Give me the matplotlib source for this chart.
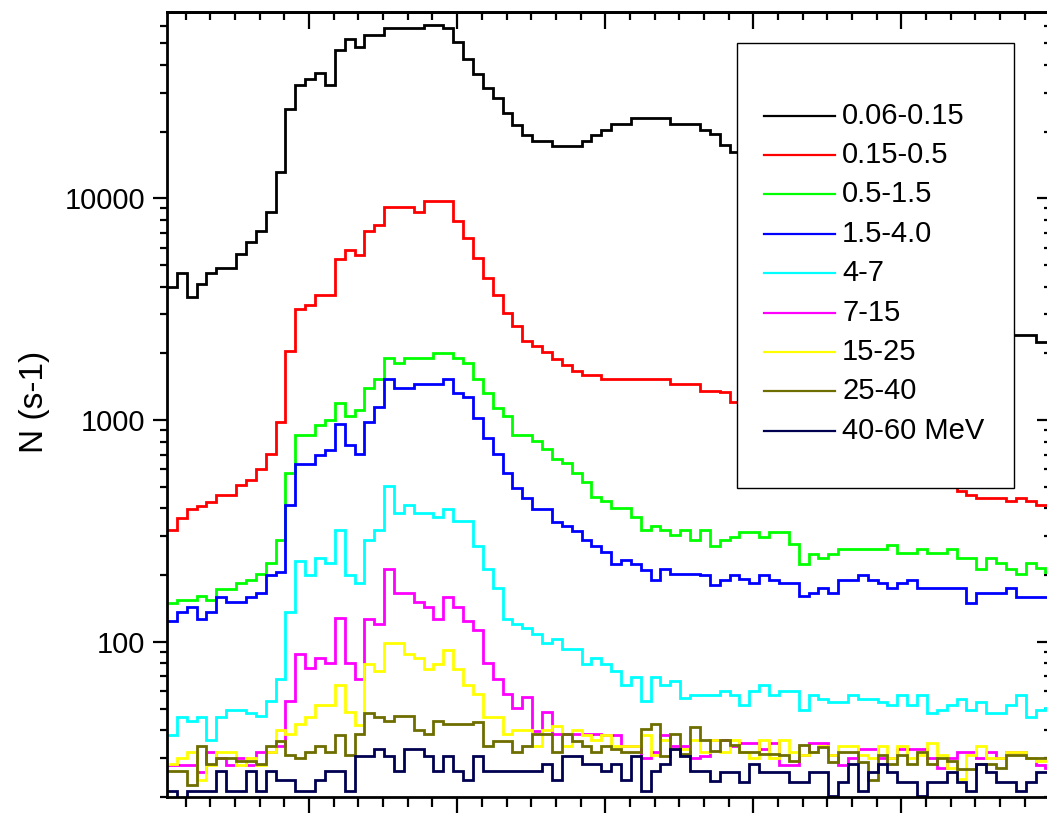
import numpy as np
import matplotlib
matplotlib.use('Agg')
import matplotlib.pyplot as plt
from matplotlib.lines import Line2D
from matplotlib.patches import Rectangle

plt.rcParams['font.family'] = ['Liberation Sans', 'DejaVu Sans']

labels = ['0.06-0.15', '0.15-0.5', '0.5-1.5', '1.5-4.0', '4-7', '7-15',
          '15-25', '25-40', '40-60 MeV']
colors = ['#000000', '#FF0000', '#00FF00', '#0000FF', '#00FFFF', '#FF00FF',
          '#FFFF00', '#6E6E00', '#000050']

black = [3970, 4590, 3575, 4090, 4590, 4870, 4870, 5590, 6375, 7120,
         8680, 13190, 25380, 32340, 34530, 36640, 32340, 46700, 52360, 48330,
         54710, 54710, 58620, 58620, 58620, 58620, 60490, 60490, 58620, 50700,
         42360, 36390, 31330, 28360, 24330, 21420, 19240, 18200, 18200, 17290,
         17290, 17290, 18200, 19240, 20320, 21580, 21580, 22970, 22970, 22970,
         22970, 21580, 21580, 21580, 20320, 19500, 17400, 16240, 15500, 14800,
         13900, 13000, 12000, 11000, 10000, 9100, 8300, 7500, 6800, 6200,
         5600, 5100, 4700, 4300, 4000, 3700, 3450, 3250, 3050, 2900,
         2780, 2680, 2600, 2540, 2480, 2420, 2420, 2420, 2250, 2250]
red = [319, 364, 399, 412, 428, 459, 459, 509, 540, 601,
       702, 983, 2046, 3168, 3304, 3664, 3664, 5348, 5847, 5548,
       7123, 7585, 9108, 9108, 9108, 8646, 9694, 9694, 9694, 7926,
       6600, 5358, 4357, 3664, 3027, 2670, 2280, 2164, 2033, 1884,
       1771, 1669, 1596, 1596, 1531, 1531, 1531, 1531, 1531, 1531,
       1531, 1449, 1449, 1449, 1356, 1356, 1334, 1211, 1150, 1100,
       1050, 1000, 960, 920, 880, 850, 820, 790, 760, 730,
       700, 680, 660, 640, 620, 600, 580, 560, 540, 520,
       480, 462, 445, 445, 445, 430, 445, 430, 415, 415]
green = [150, 155, 155, 161, 155, 173, 173, 185, 191, 203,
         228, 287, 575, 861, 861, 955, 1000, 1197, 1046, 1110,
         1390, 1531, 1910, 1814, 1910, 1910, 1910, 2013, 2013, 1910,
         1814, 1531, 1328, 1140, 1045, 858, 858, 806, 740, 668,
         644, 576, 525, 451, 433, 401, 401, 365, 320, 334,
         320, 303, 320, 288, 320, 270, 288, 298, 312, 312,
         298, 312, 312, 276, 224, 250, 239, 250, 262, 262,
         262, 262, 262, 273, 252, 252, 262, 252, 252, 262,
         239, 239, 214, 239, 226, 214, 203, 227, 215, 207]
blue = [124, 136.5, 144, 127, 136.5, 160, 151.5, 151.5, 160, 167,
        201, 207, 413, 637, 637, 700, 732, 959, 771, 702,
        982, 1145, 1531, 1403, 1403, 1462, 1462, 1462, 1531, 1328,
        1274, 1022, 830, 705, 580, 494, 444, 399, 399, 348,
        333, 318, 287, 270, 255, 224, 235, 224, 212, 191,
        214, 202, 202, 202, 201, 181, 191, 200, 192, 184,
        200, 191, 184, 184, 161, 167, 176, 166, 191, 191,
        200, 191, 184, 176, 184, 191, 176, 176, 176, 176,
        176, 150.5, 167, 167, 167, 176, 160, 160, 160, 160]
cyan = [38.2, 45.9, 43.9, 45.9, 36.0, 45.9, 49.5, 49.5, 48.0, 46.2,
        54.0, 67.8, 136.5, 232, 200, 238, 226, 319, 200, 184,
        287, 319, 504, 382, 413, 382, 382, 366, 399, 351,
        351, 271, 214, 176, 127, 121, 115, 109, 99.3, 103,
        92.5, 92.5, 79.8, 84.7, 79.8, 73.8, 63.8, 69.5, 54, 69.5,
        63.8, 66.5, 55.9, 57.4, 57.9, 57.9, 60.3, 57.6, 51.8, 59.9,
        63.8, 57.9, 60.1, 60.1, 49.5, 57.9, 55.5, 53.6, 53.6, 57.9,
        55.5, 55.5, 53.6, 52.2, 57.9, 52.2, 57.9, 47.8, 49.5, 52.0,
        55.5, 49.5, 53.6, 48.0, 48.0, 52.0, 57.9, 45.9, 49.5, 50.5]
magenta = [28, 28, 28, 26, 32, 30, 28, 30, 28, 32,
           32, 34, 54, 88, 76, 85, 80, 128, 80, 68,
           127, 120, 214, 167, 167, 151.5, 144, 127, 160, 144,
           124, 113, 80, 68, 58, 50.5, 56.3, 39.6, 48.2, 38.3,
           38.3, 38.3, 38.3, 38.3, 38, 38, 34, 34, 30, 32,
           38, 34, 34, 30, 30.5, 36, 36, 34, 35, 35,
           33, 35, 28, 28, 31, 35, 35, 31, 28, 30,
           33, 33, 30, 30, 33, 33, 33, 30, 27, 30,
           32, 32, 30, 32, 30, 32, 32, 30, 28, 27]
yellow = [28.2, 30, 31.9, 23.8, 27.8, 31.9, 31.9, 28, 30, 28,
          31.9, 39.9, 38.3, 42.8, 46, 52.2, 52.2, 64, 48.3, 42.3,
          79.8, 74.1, 99.3, 99.3, 88, 84.7, 75.8, 79.8, 91.7, 75.8,
          63.7, 58, 46, 46, 38.3, 39.9, 39.9, 34, 39.9, 42,
          34, 39.9, 38, 36, 38, 34, 34, 34, 38, 31,
          36, 33, 33, 36, 32, 36, 32, 36, 32, 30,
          36, 30, 36, 32, 31, 32, 34, 31, 34, 34,
          31, 30, 34, 30, 34, 30, 31, 35, 31, 27,
          24, 31, 34, 30, 30, 32, 32, 30, 29, 29]
olive = [26.2, 26.2, 22.6, 33.9, 28.2, 30.1, 30.1, 29, 29, 28.2,
         33.9, 35.6, 30.9, 30.1, 31.9, 33.9, 31.9, 37.9, 30.9, 38.3,
         48, 45.9, 43.8, 46.2, 46.2, 39.9, 38.3, 43.8, 42.7, 42.7,
         42.7, 43.5, 33.8, 35.7, 35.7, 31.9, 33.9, 38.3, 38.3, 31.9,
         38.3, 35.7, 33.9, 31.9, 33.9, 33.0, 31.9, 31.9, 40.4, 42.8,
         30.5, 38.3, 31.2, 41.4, 36, 32.4, 36, 34.2, 31.9, 31.9,
         31.3, 31.3, 30.8, 29.2, 34.4, 31.9, 33.6, 28.7, 31.9, 31.9,
         28.7, 23.9, 30.8, 28.3, 30.8, 28.3, 31.9, 28.3, 30.1, 29,
         26.8, 26.8, 28.3, 28.3, 27, 30.8, 30.8, 30.1, 30.1, 30.1]
navy = [21.3, 19, 21.3, 21.3, 21.3, 26.1, 21.3, 21.3, 26.1, 21.3,
        26.1, 23.8, 23.8, 21.3, 21.3, 23.8, 26.1, 26.1, 21.3, 30.5,
        30.5, 33, 30.5, 26.2, 33, 33, 30.5, 26.2, 30.5, 26.2,
        23.8, 30.5, 26.2, 26.2, 26.2, 26.2, 26.2, 26.2, 28.1, 23.8,
        30.5, 30.5, 28.1, 28.1, 26.2, 28.1, 23.8, 30.5, 21.2, 26.2,
        28.1, 33, 30.5, 26.2, 26.2, 23.6, 25.9, 25.9, 23.4, 28.1,
        25.9, 25.9, 25.9, 23.4, 23.4, 25.9, 25.9, 20.3, 23.4, 28.1,
        21.3, 25.9, 28.1, 25.9, 23.4, 23.4, 20.3, 23.4, 23.4, 25.9,
        23.4, 21.3, 28.1, 25.9, 23.4, 23.4, 21.3, 23.4, 25.9, 25.9]

series = [black, red, green, blue, cyan, magenta, yellow, olive, navy]

W, H = 1047, 813
fig = plt.figure(figsize=(W / 100, H / 100), dpi=100)

def fx(px):
    return px / W

def fy(py):
    return 1 - py / H

ax = fig.add_axes([fx(167), fy(797), (1051 - 167) / W, (797 - 12) / H])
edges = np.arange(len(black) + 1)
for vals, c in zip(series, colors):
    ax.stairs(vals, edges, baseline=None, color=c, lw=2.0)

ax.set_yscale('log')
ax.set_ylim(20, 69200)
ax.set_xlim(0, 89.57)

xmaj = [14.4 + 15 * k for k in range(6)]
xmin = [14.4 + 2.5 * k for k in range(-5, 31) if 0 < 14.4 + 2.5 * k < 89.57]
ymaj = [100, 1000, 10000]
ymin = [m * d for d in (10, 100, 1000, 10000) for m in range(2, 10)]
ymin = [v for v in ymin if 20 <= v <= 69200]

for s in ax.spines.values():
    s.set_linewidth(2.0)

ax.set_xticks(xmaj)
ax.set_xticks(xmin, minor=True)
ax.set_xticklabels([])
ax.set_yticks(ymaj)
ax.set_yticks(ymin, minor=True)
ax.set_yticklabels(['100', '1000', '10000'])
ax.yaxis.set_minor_formatter(matplotlib.ticker.NullFormatter())
ax.tick_params(axis='x', which='major', direction='out', length=11.5, width=1.6)
ax.tick_params(axis='x', which='minor', direction='out', length=7, width=1.6)
ax.tick_params(axis='y', which='major', direction='out', length=10, width=1.6,
               labelsize=21, pad=5.5)
ax.tick_params(axis='y', which='minor', direction='out', length=5, width=1.6)

sx = ax.secondary_xaxis('top')
sx.set_xticks(xmaj)
sx.set_xticks(xmin, minor=True)
sx.set_xticklabels([])
sx.tick_params(axis='x', which='major', direction='in', length=12, width=1.6)
sx.tick_params(axis='x', which='minor', direction='in', length=6, width=1.6)
sx.spines['top'].set_linewidth(2.0)

sy = ax.secondary_yaxis('right')
sy.set_yticks(ymaj)
sy.set_yticks(ymin, minor=True)
sy.set_yticklabels([])
sy.yaxis.set_minor_formatter(matplotlib.ticker.NullFormatter())
sy.tick_params(axis='y', which='major', direction='in', length=10, width=1.6)
sy.tick_params(axis='y', which='minor', direction='in', length=5, width=1.6)

fig.text(fx(35), fy(402), 'N (s-1)', rotation=90, ha='center', va='center',
         fontsize=24)

# legend box
lx0, lx1, ly0, ly1 = 737, 1014, 43, 488
fig.add_artist(Rectangle((fx(lx0), fy(ly1)), fx(lx1) - fx(lx0), fy(ly0) - fy(ly1),
                         transform=fig.transFigure, facecolor='white',
                         edgecolor='black', lw=1.0, zorder=10))
for k, (lab, c) in enumerate(zip(labels, colors)):
    yy = 115.7 + 39.4 * k
    fig.add_artist(Line2D([fx(764), fx(835)], [fy(yy), fy(yy)], color=c, lw=1.6,
                          transform=fig.transFigure, zorder=11))
    fig.text(fx(842), fy(yy + 7.8), lab, ha='left', va='baseline', fontsize=21,
             zorder=12)

fig.savefig('out.png', dpi=100)
